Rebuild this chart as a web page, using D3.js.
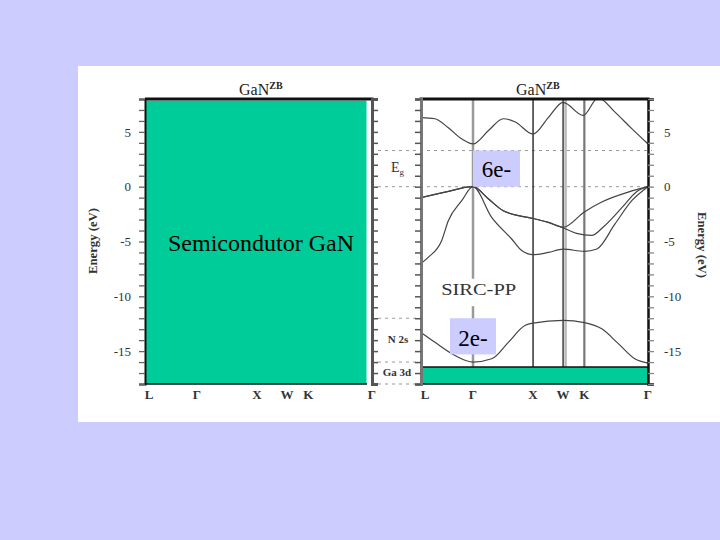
<!DOCTYPE html>
<html><head><meta charset="utf-8">
<script src="https://cdn.jsdelivr.net/npm/d3@7"></script>
<style>body{margin:0;background:#CCCCFF;} svg{display:block}</style>
</head><body><svg id="c" width="720" height="540"></svg>
<script>
// ---- data ----
const kLabels = ["L","Γ","X","W","K","Γ"];
const kPoints = [0, 0.866, 1.866, 2.366, 2.72, 3.78];
const energyTicks = [5, 0, -5, -10, -15];
const energyMinor = d3.range(-18, 9, 1);

const cbK = [0, 0.23, 0.45, 0.68, 0.866, 1.12, 1.37, 1.57, 1.866, 2.12, 2.366, 2.70, 2.95, 3.23, 3.51, 3.78];
const cbE = [6.3, 6.2, 5.4, 4.35, 3.9, 5.1, 6.2, 5.9, 4.8, 6.3, 7.7, 6.5, 8.1, 6.8, 5.3, 3.9];

const vb1K = [0, 0.4, 0.866, 1.12, 1.37, 1.866, 2.12, 2.366, 2.72, 3.01, 3.45, 3.78];
const vb1E = [-1.0, -0.5, 0, -1.1, -2.2, -2.9, -3.25, -3.7, -2.3, -1.4, -0.5, 0];

const vb2K = [0, 0.4, 0.866, 1.12, 1.37, 1.866, 2.12, 2.366, 2.59, 2.84, 3.04, 3.36, 3.59, 3.78];
const vb2E = [-1.0, -0.5, 0, -1.1, -2.2, -2.9, -3.25, -3.75, -4.26, -4.45, -3.65, -1.82, -0.46, 0];

const vb3K = [0, 0.12, 0.345, 0.455, 0.678, 0.866, 1.177, 1.51, 1.677, 1.866, 2.12, 2.366, 2.72, 2.93, 3.23, 3.51, 3.78];
const vb3E = [-7.0, -6.45, -4.9, -3.1, -1.28, 0, -2.8, -4.77, -5.83, -6.2, -6.0, -5.7, -5.9, -5.68, -3.4, -1.28, 0];

const n2sK = [0, 0.233, 0.566, 0.866, 1.177, 1.454, 1.73, 1.866, 2.366, 2.72, 3.01, 3.29, 3.56, 3.78];
const n2sE = [-13.3, -14.2, -15.4, -16.0, -15.7, -14.2, -12.67, -12.45, -12.2, -12.4, -12.97, -14.34, -15.7, -16.1];

const gapLevels = [3.3, 0];          // Eg
const coreLevels = [-12.0, -16.0, -18.0]; // N 2s / Ga 3d
const ga3dBand = [-16.45, -18];

// ---- drawing ----
const svg = d3.select("#c");
const serif = "'Liberation Serif','Times New Roman',serif";
const GREEN = "#00CC99";

svg.append("rect").attr("width",720).attr("height",540).attr("fill","#CCCCFF");
svg.append("rect").attr("x",78).attr("y",66).attr("width",642).attr("height",356).attr("fill","#fff");

const kMax = 3.78;
const y  = d3.scaleLinear().domain([-18, 8]).range([384, 99]);
const xL = d3.scaleLinear().domain([0, kMax]).range([145, 372]);
const xR = d3.scaleLinear().domain([0, kMax]).range([421, 648]);

// dashed reference levels
const dash = svg.append("g").attr("stroke","#999").attr("stroke-width",1).attr("stroke-dasharray","3,4");
gapLevels.forEach(e => dash.append("line").attr("x1",378).attr("x2",652).attr("y1",y(e)).attr("y2",y(e)));
coreLevels.forEach(e => dash.append("line").attr("x1",378).attr("x2",420).attr("y1",y(e)).attr("y2",y(e)));

// clip for right panel
svg.append("clipPath").attr("id","clipR").append("rect")
  .attr("x",xR(0)).attr("y",y(8)).attr("width",xR(kMax)-xR(0)).attr("height",y(-18)-y(8));

// vertical symmetry lines (right panel)
const vl = svg.append("g");
const vStyle = [["#9a9a9a",2.5],["#333",1.5],["#222",1.3],["#777",2.2]];
kPoints.slice(1,5).forEach((k,i) => {
  vl.append("line").attr("x1",xR(k)).attr("x2",xR(k)).attr("y1",y(8)).attr("y2",y(-18))
    .attr("stroke",vStyle[i][0]).attr("stroke-width",vStyle[i][1]);
});
vl.append("line").attr("x1",xR(kPoints[3])+2.5).attr("x2",xR(kPoints[3])+2.5).attr("y1",y(8)).attr("y2",y(-18))
  .attr("stroke","#aaa").attr("stroke-width",2.5).attr("opacity",0.8);

// bands
const line = d3.line().x(d => xR(d[0])).y(d => y(d[1])).curve(d3.curveMonotoneX);
const bands = [[cbK,cbE],[vb1K,vb1E],[vb2K,vb2E],[vb3K,vb3E],[n2sK,n2sE]];
const bg = svg.append("g").attr("clip-path","url(#clipR)");
bands.forEach(([ks,es]) => {
  bg.append("path").datum(ks.map((k,i)=>[k,es[i]])).attr("d",line)
    .attr("fill","none").attr("stroke","#444").attr("stroke-width",1.2);
});

// SIRC-PP label
svg.append("rect").attr("x",xR(1.0)-40).attr("y",y(-8.4)).attr("width",80).attr("height",y(-10.9)-y(-8.4)).attr("fill","#fff");
svg.append("text").attr("x",xR(0.96)).attr("y",y(-9.9)).attr("text-anchor","middle")
  .attr("font-family",serif).attr("font-size",17).attr("fill","#333")
  .attr("textLength",75).attr("lengthAdjust","spacingAndGlyphs").text("SIRC-PP");

// Ga 3d green bar
svg.append("rect").attr("x",xR(0)).attr("y",y(ga3dBand[0])).attr("width",xR(kMax)-xR(0))
  .attr("height",y(ga3dBand[1])-y(ga3dBand[0])).attr("fill",GREEN).attr("stroke","#111").attr("stroke-width",1.5);

// Right panel frame + axes
svg.append("line").attr("x1",xR(0)-1.5).attr("x2",xR(kMax)+1.5).attr("y1",y(8)).attr("y2",y(8)).attr("stroke","#111").attr("stroke-width",3);
const rLeft = svg.append("g").attr("transform",`translate(${xR(0)},0)`)
  .call(d3.axisLeft(y).tickValues(energyMinor).tickSize(6).tickFormat(""));
rLeft.select(".domain").attr("stroke","#777").attr("stroke-width",3);
rLeft.selectAll(".tick line").attr("stroke","#555").attr("stroke-width",1.5);

const rRight = svg.append("g").attr("transform",`translate(${xR(kMax)},0)`)
  .call(d3.axisRight(y).tickValues(energyMinor).tickSize(6).tickPadding(10)
    .tickFormat(d => energyTicks.includes(d) ? String(d) : ""));
rRight.select(".domain").attr("stroke","#111").attr("stroke-width",2.5);
rRight.selectAll(".tick line").attr("stroke","#888").attr("stroke-width",1.3);
rRight.selectAll("text").attr("font-family",serif).attr("font-size",13).attr("fill","#333");

// Left panel: green cover + frame
svg.append("rect").attr("x",xL(0)).attr("y",y(7.85)).attr("width",xL(kMax)-xL(0)-5.5).attr("height",y(-18)-y(7.85))
  .attr("fill",GREEN);
svg.append("line").attr("x1",xL(0)).attr("x2",xL(kMax)+1.5).attr("y1",y(8)).attr("y2",y(8)).attr("stroke","#111").attr("stroke-width",3);
svg.append("line").attr("x1",xL(0)).attr("x2",xL(kMax)-5).attr("y1",y(-18)).attr("y2",y(-18)).attr("stroke","#111").attr("stroke-width",1.5);
const lLeft = svg.append("g").attr("transform",`translate(${xL(0)},0)`)
  .call(d3.axisLeft(y).tickValues(energyMinor).tickSize(6).tickPadding(8)
    .tickFormat(d => energyTicks.includes(d) ? String(d) : ""));
lLeft.select(".domain").attr("stroke","#111").attr("stroke-width",2);
lLeft.selectAll(".tick line").attr("stroke","#666").attr("stroke-width",1.3);
lLeft.selectAll("text").attr("font-family",serif).attr("font-size",13).attr("fill","#333");

const lRight = svg.append("g").attr("transform",`translate(${xL(kMax)},0)`)
  .call(d3.axisRight(y).tickValues(energyMinor).tickSize(6).tickFormat(""));
lRight.select(".domain").attr("stroke","#555").attr("stroke-width",3);
lRight.selectAll(".tick line").attr("stroke","#555").attr("stroke-width",1.5);

// k-point labels
[xL, xR].forEach(xs => {
  svg.append("g").selectAll("text").data(kLabels).join("text")
    .attr("x",(d,i) => xs(kPoints[i]) + (i===0 ? 4 : 0)).attr("y",399)
    .attr("text-anchor","middle").attr("font-family",serif).attr("font-weight","bold")
    .attr("font-size",13).attr("fill","#333").text(d => d);
});

// titles
[[239,95],[516,95]].forEach(([tx,ty]) => {
  const t = svg.append("text").attr("x",tx).attr("y",ty).attr("font-family",serif).attr("font-size",16).attr("fill","#222");
  t.append("tspan").text("GaN");
  t.append("tspan").attr("dy",-6).attr("font-size",10).attr("font-weight","bold").text("ZB");
});

// Energy (eV) axis titles
svg.append("text").attr("transform","translate(97,241) rotate(-90)").attr("text-anchor","middle")
  .attr("font-family",serif).attr("font-weight","bold").attr("font-size",13).attr("fill","#333")
  .attr("textLength",66).attr("lengthAdjust","spacingAndGlyphs").text("Energy (eV)");
svg.append("text").attr("transform","translate(698,245) rotate(90)").attr("text-anchor","middle")
  .attr("font-family",serif).attr("font-weight","bold").attr("font-size",13).attr("fill","#333")
  .attr("textLength",66).attr("lengthAdjust","spacingAndGlyphs").text("Energy (eV)");

// level labels in the middle
const eg = svg.append("text").attr("x",391).attr("y",y(1.3)).attr("font-family",serif).attr("font-size",14).attr("fill","#333");
eg.append("tspan").text("E");
eg.append("tspan").attr("dy",3).attr("font-size",9).text("g");
svg.append("text").attr("x",398).attr("y",y(-14.3)).attr("text-anchor","middle").attr("font-family",serif)
  .attr("font-weight","bold").attr("font-size",11).attr("fill","#333").text("N 2s");
svg.append("text").attr("x",397).attr("y",y(-17.3)).attr("text-anchor","middle").attr("font-family",serif)
  .attr("font-weight","bold").attr("font-size",11).attr("fill","#333").text("Ga 3d");

// annotation boxes
const boxes = [
  {k0:0.866, k1:1.649, e0:3.3, e1:0, label:"6e-", eText:0.9},
  {k0:0.483, k1:1.249, e0:-12.0, e1:-15.3, label:"2e-", eText:-14.5}
];
boxes.forEach(b => {
  svg.append("rect").attr("x",xR(b.k0)).attr("y",y(b.e0)).attr("width",xR(b.k1)-xR(b.k0))
    .attr("height",y(b.e1)-y(b.e0)).attr("fill","#CCCCFF");
  svg.append("text").attr("x",(xR(b.k0)+xR(b.k1))/2).attr("y",y(b.eText)).attr("text-anchor","middle")
    .attr("font-family",serif).attr("font-size",23).attr("fill","#000").text(b.label);
});

// left-panel caption
svg.append("text").attr("x",168).attr("y",251).attr("font-family",serif).attr("font-size",24)
  .attr("fill","#000").text("Semicondutor GaN");
</script>
</body></html>
